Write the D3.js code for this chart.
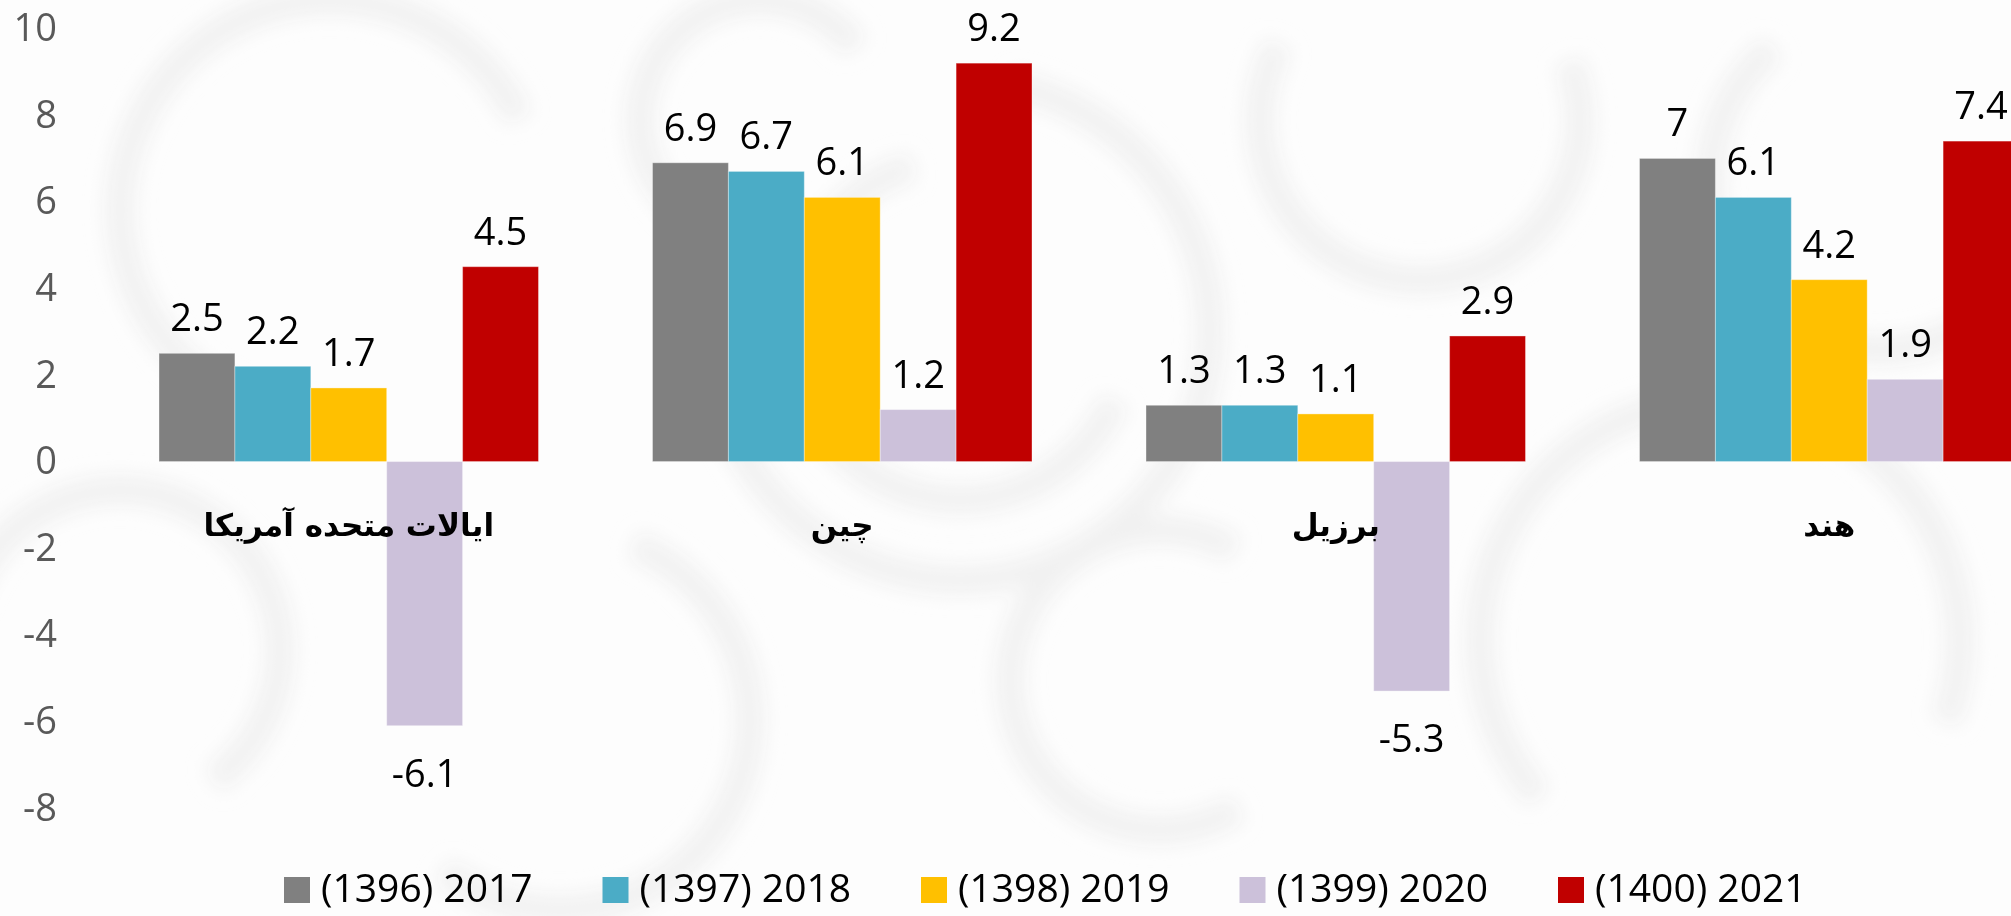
<!DOCTYPE html>
<html>
<head>
<meta charset="utf-8">
<script src="https://cdn.jsdelivr.net/npm/d3@7/dist/d3.min.js"></script>
<style>
  html, body { margin: 0; padding: 0; background: #fff; overflow: hidden; }
  svg { display: block; }
</style>
</head>
<body>
<div id="chart"></div>
<script>
// chart data
const categories = ['ایالات متحده آمریکا', 'چین', 'برزیل', 'هند']
const seriesNames = ['(1396) 2017', '(1397) 2018', '(1398) 2019', '(1399) 2020', '(1400) 2021']
const seriesColors = ['#808080', '#4bacc6', '#ffc000', '#ccc1da', '#c00000']
const values2017 = [2.5, 6.9, 1.3, 7]
const values2018 = [2.2, 6.7, 1.3, 6.1]
const values2019 = [1.7, 6.1, 1.1, 4.2]
const values2020 = [-6.1, 1.2, -5.3, 1.9]
const values2021 = [4.5, 9.2, 2.9, 7.4]
const yTicks = [-8, -6, -4, -2, 0, 2, 4, 6, 8, 10]

const seriesValues = [values2017, values2018, values2019, values2020, values2021]

// layout
const visW = 2011
const visH = 916
const numFont = '"Segoe UI", "Open Sans", sans-serif'
const numSize = 38
const textColor = '#000'
const tickColor = '#595959'

const vis = d3.select('#chart')
  .append('svg')
  .attr('width', visW)
  .attr('height', visH)

/* ---------- background watermark ---------- */

function drawBackground () {
  const defs = vis.append('defs')
  defs.append('filter')
    .attr('id', 'soft')
    .attr('x', '-20%').attr('y', '-20%')
    .attr('width', '140%').attr('height', '140%')
    .append('feGaussianBlur')
    .attr('stdDeviation', 10)

  vis.append('rect')
    .attr('width', visW)
    .attr('height', visH)
    .style('fill', '#fdfdfd')

  // loose swirls, purely decorative
  const swirls = [
    [960, 330, 250, 0.2, 4.6], [960, 330, 170, 2.0, 6.0], [1420, 120, 160, 1.2, 5.2],
    [330, 210, 210, 3.2, 7.4], [1720, 640, 240, 4.0, 8.2], [560, 720, 190, 0.4, 3.8],
    [1160, 680, 150, 2.6, 6.8], [120, 650, 160, 5.0, 8.8], [1880, 180, 170, 1.8, 5.6],
    [760, 120, 120, 3.6, 7.2]
  ]
  const arc = d3.arc()
  vis.append('g')
    .attr('filter', 'url(#soft)')
    .selectAll('path')
    .data(swirls)
    .join('path')
    .attr('transform', d => `translate(${d[0]},${d[1]})`)
    .attr('d', d => arc({ innerRadius: d[2] - 14, outerRadius: d[2] + 14, startAngle: d[3], endAngle: d[4] }))
    .style('fill', '#f1f1f1')
}

/* ---------- scales ---------- */

const y = d3.scaleLinear()
  .domain([-8, 10])
  .range([808, 28.5])

const x0 = d3.scaleBand()
  .domain(categories)
  .range([102, 2076])
  .paddingInner(0.231)
  .paddingOuter(0.1155)

const x1 = d3.scaleBand()
  .domain(d3.range(seriesNames.length))
  .range([0, x0.bandwidth()])

/* ---------- drawing ---------- */

function drawAxis () {
  const axis = vis.append('g')
    .attr('transform', 'translate(57,0)')
    .call(d3.axisLeft(y).tickValues(yTicks).tickSize(0).tickPadding(0).tickFormat(d => String(d)))
  axis.select('.domain').remove()
  axis.selectAll('text')
    .attr('font-family', numFont)
    .attr('font-size', numSize)
    .style('fill', tickColor)
}

function drawBars () {
  const groups = vis.append('g')
    .selectAll('g')
    .data(categories)
    .join('g')
    .attr('transform', d => `translate(${x0(d)},0)`)

  const bars = groups.selectAll('g')
    .data((d, ci) => seriesValues.map((vals, si) => ({ si: si, v: vals[ci] })))
    .join('g')

  bars.append('rect')
    .attr('x', d => x1(d.si))
    .attr('y', d => y(Math.max(0, d.v)))
    .attr('width', x1.bandwidth())
    .attr('height', d => Math.abs(y(d.v) - y(0)))
    .style('fill', d => seriesColors[d.si])
    .style('stroke', '#ffffff')
    .style('stroke-opacity', 0.35)
    .style('stroke-width', 1)

  // value labels sit outside the bar end
  bars.append('text')
    .attr('x', d => x1(d.si) + x1.bandwidth() / 2)
    .attr('y', d => d.v >= 0 ? y(d.v) - 22 : y(d.v) + 61)
    .attr('text-anchor', 'middle')
    .attr('font-family', numFont)
    .attr('font-size', numSize)
    .style('fill', textColor)
    .text(d => String(d.v))
}

function drawCategoryLabels () {
  vis.append('g')
    .selectAll('text')
    .data(categories)
    .join('text')
    .attr('x', d => x0(d) + x0.bandwidth() / 2)
    .attr('y', 536)
    .attr('text-anchor', 'middle')
    .attr('direction', 'rtl')
    .attr('font-family', '"DejaVu Sans", sans-serif')
    .attr('font-weight', 'bold')
    .attr('font-size', 31)
    .style('fill', textColor)
    .text(d => d)
}

function drawLegend () {
  const step = 318.5
  const box = 26
  const items = vis.append('g')
    .attr('transform', 'translate(284,0)')
    .selectAll('g')
    .data(seriesNames)
    .join('g')
    .attr('transform', (d, i) => `translate(${i * step},0)`)

  items.append('rect')
    .attr('x', 0)
    .attr('y', 877)
    .attr('width', box)
    .attr('height', box)
    .style('fill', (d, i) => seriesColors[i])

  items.append('text')
    .attr('x', box + 11)
    .attr('y', 902)
    .attr('font-family', numFont)
    .attr('font-size', 39)
    .style('fill', textColor)
    .text(d => d)
}

drawBackground()
drawAxis()
drawBars()
drawCategoryLabels()
drawLegend()
</script>
</body>
</html>
